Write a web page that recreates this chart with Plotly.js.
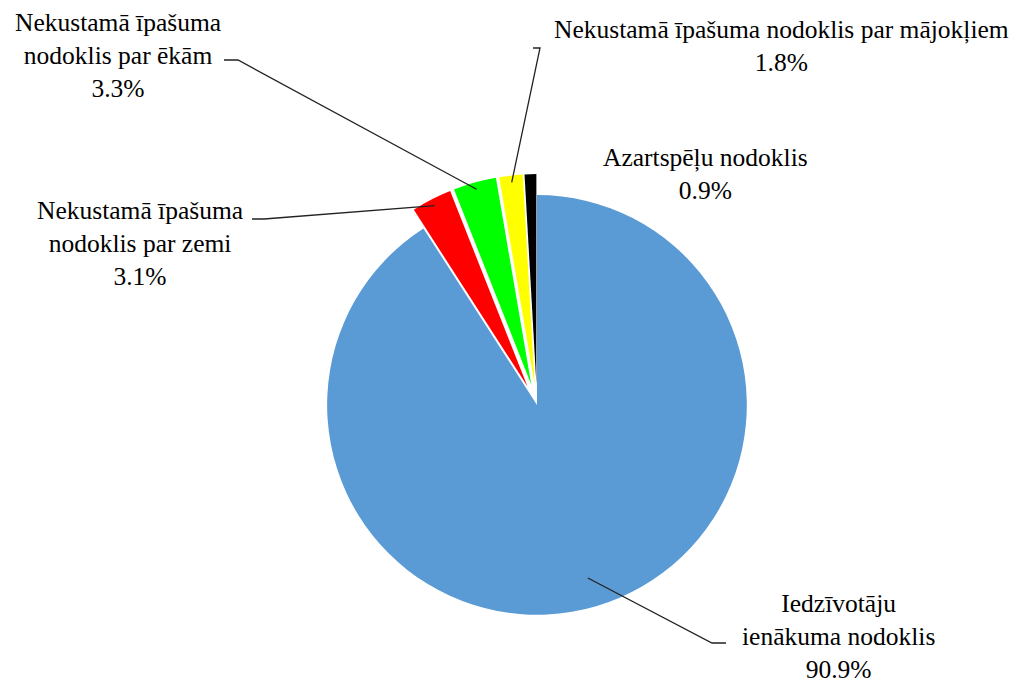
<!DOCTYPE html>
<html><head><meta charset="utf-8">
<script src="https://cdn.plot.ly/plotly-3.0.1.min.js"></script>
<style>html,body{margin:0;padding:0;background:#fff}#chart{width:1017px;height:688px}</style>
</head><body><div id="chart"></div>
<script>
const labels = ["Iedzīvotāju<br>ienākuma nodoklis", "Nekustamā īpašuma<br>nodoklis par zemi", "Nekustamā īpašuma<br>nodoklis par ēkām", "Nekustamā īpašuma nodoklis par mājokļiem", "Azartspēļu nodoklis"];
const values = [90.9, 3.1, 3.3, 1.8, 0.9];
const colors = ["#5B9BD5", "#FF0000", "#00FF00", "#FFFF00", "#000000"];
const pulls = [0, 0.1, 0.1, 0.1, 0.1];
// label centre (px) and leader-line elbow: [start x, end x, y] or null
const labelPos = [[838, 636], [140, 243], [118, 55], [781, 46], [705, 174]];
const leaders = [[726, 712, 643], [252, 264, 219], [224, 238, 60], [533, 540, 48], null];
const tipDepth = [0.86, 0.97, 0.97, 0.97, 0.97];

const W = 1017, H = 688;
const font = {family: "Liberation Serif", size: 25.5, color: "#000"};

const trace = {
  type: "pie", values: values, labels: labels, sort: false, direction: "clockwise", rotation: 0,
  marker: {colors: colors, line: {width: 0}}, pull: pulls, textinfo: "none", hoverinfo: "label+percent",
  domain: {x: [0.301, 0.755], y: [0.076, 0.747]}, showlegend: false
};
const layout = {width: W, height: H, margin: {l: 0, r: 0, t: 0, b: 0}, paper_bgcolor: "#fff", showlegend: false, font: font};

Plotly.newPlot("chart", [trace], layout, {displayModeBar: false, staticPlot: true}).then(gd => {
  const cd0 = gd.calcdata[0][0];
  const cx = cd0.cx, cy = cd0.cy, r = cd0.r;
  const total = values.reduce((a, b) => a + b, 0);
  let cum = 0;
  const anns = [], shapes = [];
  const px = x => x / W, py = y => 1 - y / H;
  values.forEach((v, i) => {
    const mid = (cum + v / 2) / total * 2 * Math.PI;
    cum += v;
    const R = r * (1 + pulls[i]) * tipDepth[i];
    const tx = cx + R * Math.sin(mid), ty = cy - R * Math.cos(mid);
    const [lx, ly] = labelPos[i];
    const pct = (v / total * 100).toFixed(1) + "%";
    anns.push({xref: "paper", yref: "paper", x: px(lx), y: py(ly), xanchor: "center", yanchor: "middle",
      text: labels[i] + "<br>" + pct, showarrow: false, font: font});
    const L = leaders[i];
    if (L) {
      shapes.push({type: "path", xref: "paper", yref: "paper",
        path: `M${px(L[0])},${py(L[2])} L${px(L[1])},${py(L[2])} L${px(tx)},${py(ty)}`,
        line: {color: "#222", width: 1.3}});
    }
  });
  return Plotly.relayout(gd, {annotations: anns, shapes: shapes});
});
</script></body></html>
